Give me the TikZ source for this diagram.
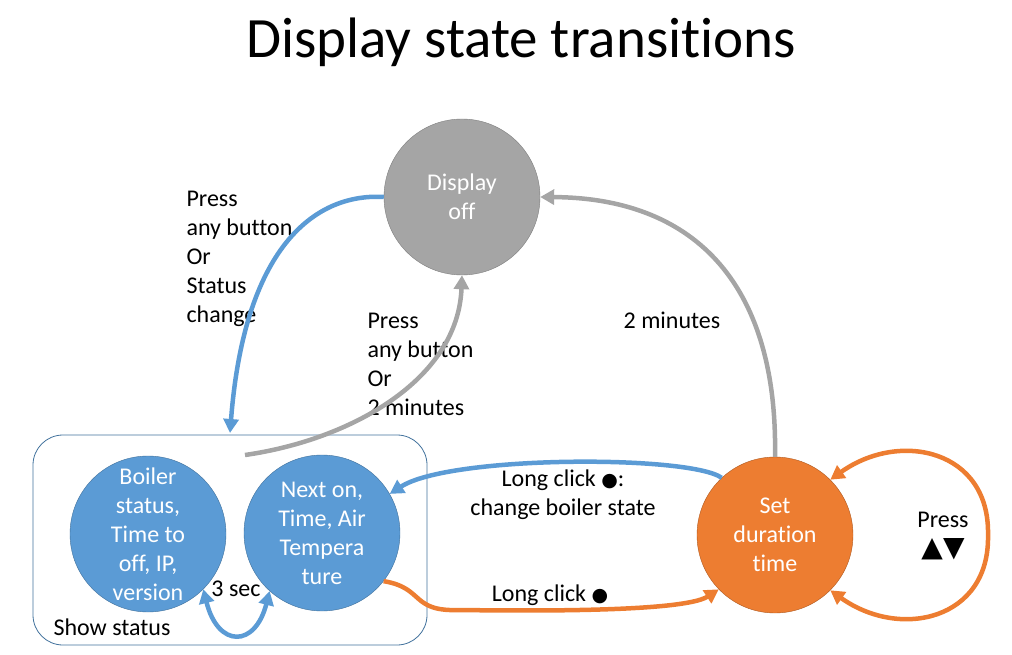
\documentclass[tikz,border=0pt]{standalone}
\usepackage{fontspec}
\setmainfont[Ligatures=NoCommon]{Carlito}
\newfontfamily\symfont{DejaVu Sans}
\usepackage{tikz}
\usetikzlibrary{arrows.meta,positioning}
\definecolor{stblue}{HTML}{5B9BD5}
\definecolor{stblueln}{HTML}{41719C}
\definecolor{storange}{HTML}{ED7D31}
\definecolor{storangeln}{HTML}{AE5A21}
\definecolor{stgray}{HTML}{A5A5A5}
\definecolor{stgrayln}{HTML}{7F7F7F}
\tikzset{
  st/.style     ={circle, minimum size=156pt, inner sep=0pt, align=center, text=white, font=\fontsize{24}{29}\selectfont},
  stb/.style    ={st, fill=stblue, draw=stblueln},
  sto/.style    ={st, fill=storange, draw=storangeln},
  stg/.style    ={st, fill=stgray, draw=stgrayln},
  grp/.style    ={draw=stblueln, line width=0.8pt, rounded corners=30pt, minimum width=394pt, minimum height=210pt},
  lbl/.style    ={align=left, font=\fontsize{24}{29}\selectfont},
  lblc/.style   ={align=center, font=\fontsize{24}{29}\selectfont},
  ar/.style     ={-{Triangle[length=14pt,width=15pt]}, line width=4.5pt},
  arboth/.style ={{Triangle[length=14pt,width=15pt]}-{Triangle[length=14pt,width=15pt]}, line width=4.5pt},
}
\newcommand{\dotsym}{{\symfont\fontsize{19}{20}\selectfont ●}}

\begin{document}
\begin{tikzpicture}[x=1pt,y=-1pt]
\useasboundingbox (0,0) rectangle (1012,655);
\node[font=\fontsize{57}{60}\selectfont] (title) at (521,42) {Display state transitions};
% states
\node[grp] (show) at (230,540) {};
\node[stg] (off) at (462,197) {Display\\off};
\node[stb] (boiler) at (148,534) {Boiler\\status,\\Time to\\off, IP,\\version};
\node[stb] (next) at (322,533) {Next on,\\Time, Air\\Tempera\\ture};
\node[sto] (set) at (775,535) {Set\\duration\\time};
\node[lbl, anchor=base west] (showlbl) at (50,635) {Show status};
\node[lbl, anchor=base] (sec) at (236,596) {3 sec};
% labels (base = last line)
\node[lbl, anchor=base west] (wake) at (183,322) {Press\\any button\\Or\\Status\\change};
\node[lbl, anchor=base west] (sleep) at (364,415) {Press\\any button\\Or\\2 minutes};
\node[lbl, anchor=base] (idle) at (672,328) {2 minutes};
\node[lblc, anchor=base] (lc1) at (563,515) {Long click \dotsym:\\change boiler state};
\node[lbl, anchor=base] (lc2) at (550,601) {Long click \dotsym};
\node[lblc, anchor=base] (press) at (943,556) {Press\\{\symfont\fontsize{28}{29}\selectfont ▲▼}};
\coordinate (showin) at (230,433);
\coordinate (showout) at (245,455);
% transitions
\draw[ar, draw=stblue] (off.west) .. controls (320,193) and (245,240) .. (showin);
\draw[ar, draw=stgray] (showout) .. controls (350,440) and (458,380) .. (off.south);
\draw[ar, draw=stgray] (set.north) .. controls (778,290) and (700,198) .. (off.east);
\draw[ar, draw=stblue] (set.133) .. controls (690,455) and (450,455) .. (next.30);
\draw[ar, draw=storange] (next.-38) .. controls (425,588) and (410,612) .. (460,610)
  .. controls (600,612) and (690,608) .. (set.224);
\draw[arboth, draw=storange] (set.45) .. controls (900,430) and (990,450) .. (988,535)
  .. controls (990,620) and (900,640) .. (set.-45);
\draw[arboth, draw=stblue] (boiler.-45) .. controls (218,648) and (255,648) .. (next.228);
\end{tikzpicture}
\end{document}
